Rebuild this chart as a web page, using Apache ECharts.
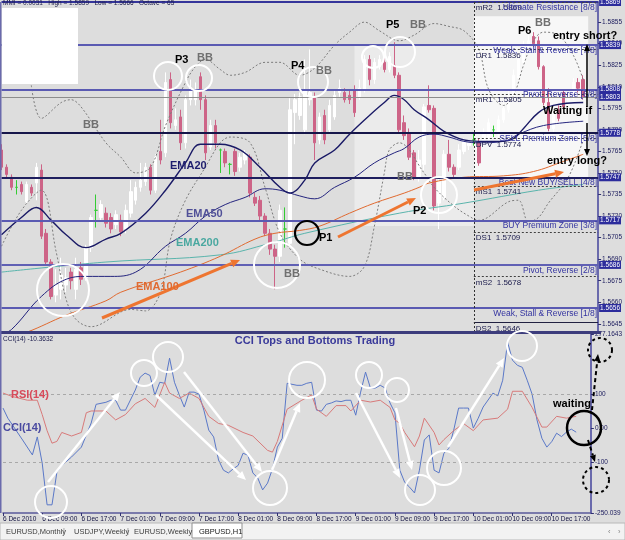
<!DOCTYPE html>
<html><head><meta charset="utf-8">
<script src="https://cdn.jsdelivr.net/npm/echarts@6/dist/echarts.min.js"></script>
<style>html,body{margin:0;padding:0;background:#dddddd;}#c{width:625px;height:540px;}</style>
</head><body><div id="c"></div>
<script>
// ---------------- DATA ----------------
const timeTickLabels = ["6 Dec 2010","6 Dec 09:00","6 Dec 17:00","7 Dec 01:00","7 Dec 09:00","7 Dec 17:00","8 Dec 01:00","8 Dec 09:00","8 Dec 17:00","9 Dec 01:00","9 Dec 09:00","9 Dec 17:00","10 Dec 01:00","10 Dec 09:00","10 Dec 17:00"];
const priceTickValues = [1.5645,1.5660,1.5675,1.5690,1.5705,1.5720,1.5735,1.5750,1.5765,1.5780,1.5795,1.5810,1.5825,1.5840,1.5855];
const cciTickValues = [-250.039,-100,0,100,277.1643];
const cciTickLabels = ["-250.039","-100","0.00","100","277.1643"];

// candles: [open, close, low, high], hourly bars from 6 Dec 2010 01:00
const candles = [
[1.5766,1.5754,1.5752,1.5770],[1.5754,1.5749,1.5747,1.5756],[1.5747,1.5740,1.5738,1.5749],[1.5740,1.5740,1.5735,1.5745],
[1.5742,1.5737,1.5735,1.5744],[1.5730,1.5742,1.5728,1.5744],[1.5740,1.5736,1.5734,1.5742],[1.5743,1.5754,1.5731,1.5757],
[1.5752,1.5706,1.5704,1.5756],[1.5708,1.5688,1.5686,1.5711],[1.5688,1.5664,1.5662,1.5690],[1.5665,1.5672,1.5660,1.5683],
[1.5669,1.5679,1.5662,1.5691],[1.5672,1.5677,1.5667,1.5684],[1.5681,1.5675,1.5669,1.5684],[1.5669,1.5683,1.5662,1.5691],
[1.5684,1.5676,1.5672,1.5688],[1.5677,1.5698,1.5675,1.5700],[1.5698,1.5719,1.5695,1.5721],[1.5724,1.5724,1.5712,1.5735],
[1.5719,1.5728,1.5716,1.5731],[1.5722,1.5715,1.5712,1.5726],[1.5719,1.5711,1.5708,1.5722],[1.5714,1.5721,1.5711,1.5724],
[1.5717,1.5709,1.5706,1.5721],[1.5711,1.5724,1.5708,1.5728],[1.5722,1.5737,1.5719,1.5745],[1.5731,1.5740,1.5728,1.5744],
[1.5740,1.5745,1.5737,1.5757],[1.5744,1.5754,1.5741,1.5757],[1.5754,1.5738,1.5735,1.5756],[1.5738,1.5761,1.5736,1.5763],
[1.5765,1.5759,1.5756,1.5787],[1.5764,1.5813,1.5761,1.5820],[1.5815,1.5785,1.5781,1.5820],[1.5783,1.5787,1.5780,1.5795],
[1.5789,1.5771,1.5766,1.5794],[1.5771,1.5801,1.5767,1.5804],[1.5801,1.5809,1.5797,1.5815],[1.5801,1.5808,1.5797,1.5813],
[1.5817,1.5801,1.5794,1.5820],[1.5801,1.5764,1.5759,1.5804],[1.5768,1.5783,1.5766,1.5787],[1.5783,1.5771,1.5767,1.5787],
[1.5766,1.5766,1.5750,1.5767],[1.5765,1.5757,1.5754,1.5767],[1.5756,1.5756,1.5749,1.5757],[1.5765,1.5751,1.5748,1.5767],
[1.5754,1.5761,1.5751,1.5764],[1.5759,1.5764,1.5756,1.5766],[1.5761,1.5736,1.5733,1.5763],[1.5733,1.5729,1.5727,1.5736],
[1.5731,1.5720,1.5717,1.5734],[1.5720,1.5708,1.5706,1.5722],[1.5708,1.5697,1.5693,1.5711],[1.5697,1.5692,1.5669,1.5700],
[1.5692,1.5724,1.5688,1.5728],[1.5711,1.5711,1.5698,1.5726],[1.5701,1.5794,1.5699,1.5802],[1.5792,1.5801,1.5770,1.5805],
[1.5790,1.5803,1.5787,1.5806],[1.5780,1.5808,1.5777,1.5829],[1.5801,1.5806,1.5797,1.5836],[1.5803,1.5771,1.5759,1.5806],
[1.5773,1.5789,1.5770,1.5792],[1.5790,1.5773,1.5770,1.5794],[1.5780,1.5797,1.5777,1.5801],[1.5789,1.5804,1.5787,1.5808],
[1.5806,1.5809,1.5803,1.5815],[1.5806,1.5801,1.5799,1.5809],[1.5804,1.5801,1.5798,1.5808],[1.5808,1.5792,1.5789,1.5811],
[1.5803,1.5809,1.5801,1.5815],[1.5808,1.5829,1.5806,1.5832],[1.5829,1.5815,1.5811,1.5832],[1.5815,1.5827,1.5812,1.5830],
[1.5824,1.5829,1.5822,1.5832],[1.5827,1.5822,1.5820,1.5830],[1.5822,1.5831,1.5820,1.5834],[1.5825,1.5818,1.5816,1.5841],
[1.5818,1.5780,1.5778,1.5820],[1.5785,1.5776,1.5773,1.5790],[1.5778,1.5761,1.5759,1.5781],[1.5764,1.5747,1.5745,1.5766],
[1.5747,1.5759,1.5744,1.5766],[1.5756,1.5796,1.5752,1.5798],[1.5797,1.5794,1.5792,1.5811],[1.5795,1.5727,1.5724,1.5797],
[1.5729,1.5744,1.5711,1.5747],[1.5733,1.5763,1.5731,1.5766],[1.5763,1.5754,1.5751,1.5773],[1.5754,1.5749,1.5747,1.5756],
[1.5754,1.5766,1.5752,1.5770],[1.5765,1.5772,1.5763,1.5774],[1.5769,1.5771,1.5766,1.5773],[1.5773,1.5773,1.5769,1.5778],
[1.5771,1.5757,1.5755,1.5774],[1.5771,1.5778,1.5769,1.5781],[1.5773,1.5785,1.5771,1.5788],[1.5780,1.5780,1.5775,1.5783],
[1.5777,1.5787,1.5773,1.5790],[1.5787,1.5795,1.5785,1.5799],[1.5794,1.5804,1.5792,1.5808],[1.5803,1.5818,1.5801,1.5822],
[1.5816,1.5829,1.5815,1.5832],[1.5827,1.5839,1.5825,1.5842],[1.5838,1.5842,1.5836,1.5846],[1.5845,1.5840,1.5838,1.5848],
[1.5842,1.5824,1.5822,1.5845],[1.5824,1.5799,1.5797,1.5825],[1.5799,1.5781,1.5779,1.5809],[1.5781,1.5794,1.5778,1.5797],
[1.5794,1.5788,1.5786,1.5797],[1.5806,1.5796,1.5794,1.5808],[1.5796,1.5802,1.5794,1.5804],[1.5802,1.5813,1.5801,1.5816],
[1.5813,1.5809,1.5806,1.5816],[1.5815,1.5803,1.5801,1.5818]
];

// indicator lines: [bar index, value]
const ema20 = [[0,1.5707],[4,1.5719],[7,1.5726],[10,1.5717],[13,1.5707],[17,1.5698],[21,1.5704],[24,1.5708],[29,1.5722],[33,1.5738],[37,1.5757],[40,1.5770],[44,1.5770],[48,1.5766],[52,1.5754],[56,1.5740],[58,1.5736],[61,1.5745],[63,1.5757],[67,1.5766],[70,1.5777],[74,1.5790],[77,1.5799],[79,1.5804],[81,1.5801],[83,1.5794],[86,1.5787],[89,1.5779],[93,1.5773],[96,1.5772],[101,1.5772],[103,1.5774],[105,1.5781],[108,1.5792],[111,1.5797],[117,1.5799]];
const ema50 = [[0,1.5638],[2,1.5641],[8,1.5664],[13,1.5676],[17,1.5678],[22,1.5678],[27,1.5681],[33,1.5699],[37,1.5708],[41,1.5720],[45,1.5728],[49,1.5733],[53,1.5739],[56,1.5738],[60,1.5734],[63,1.5732],[67,1.5740],[71,1.5747],[75,1.5757],[79,1.5764],[81,1.5767],[84,1.5775],[87,1.5777],[90,1.5775],[93,1.5772],[96,1.5771],[101,1.5772],[104,1.5777],[109,1.5783],[117,1.5786]];
const ema100 = [[0,1.5634],[5,1.5639],[13,1.5651],[21,1.5661],[24,1.5667],[36,1.5681],[44,1.5692],[51,1.5704],[55,1.5708],[60,1.5710],[64,1.5713],[70,1.5722],[75,1.5729],[81,1.5736],[84,1.5740],[86,1.5743],[93,1.5747],[101,1.5748],[107,1.5751],[113,1.5758],[117,1.5763]];
const ema200 = [[0,1.5681],[21,1.5688],[44,1.5693],[54,1.5701],[61,1.5708],[80,1.5722],[93,1.5729],[108,1.5738],[117,1.5742]];
const bbUpper = [[6,1.5811],[8,1.5788],[12,1.5799],[14,1.5801],[16,1.5796],[21,1.5771],[24,1.5761],[27,1.5750],[30,1.5754],[33,1.5783],[37,1.5813],[39,1.5824],[41,1.5829],[44,1.5822],[46,1.5818],[49,1.5820],[53,1.5827],[56,1.5827],[60,1.5818],[63,1.5823],[67,1.5839],[70,1.5848],[73,1.5855],[76,1.5849],[80,1.5842],[83,1.5846],[87,1.5854],[90,1.5852],[93,1.5849],[96,1.5836],[98,1.5808],[101,1.5797],[103,1.5804],[105,1.5825],[107,1.5842],[109,1.5848],[112,1.5846],[115,1.5832],[117,1.5815]];
const bbLower = [[0,1.5699],[4,1.5724],[8,1.5738],[11,1.5695],[13,1.5662],[15,1.5648],[18,1.5643],[26,1.5655],[29,1.5654],[32,1.5667],[34,1.5704],[37,1.5731],[41,1.5754],[44,1.5771],[46,1.5775],[50,1.5771],[53,1.5740],[56,1.5708],[60,1.5690],[64,1.5683],[70,1.5678],[73,1.5685],[75,1.5713],[77,1.5750],[78,1.5766],[80,1.5771],[85,1.5750],[87,1.5740],[91,1.5727],[94,1.5720],[96,1.5717],[102,1.5730],[104,1.5731],[106,1.5716],[108,1.5719],[110,1.5729],[114,1.5747],[117,1.5773]];
const cci = [[0,59],[1,29],[4,-35],[6,-79],[7,-26],[8,-103],[9,-226],[10,-226],[11,-130],[12,-110],[14,-85],[16,-56],[18,15],[19,70],
[21,76],[22,82],[23,82],[24,53],[25,53],[27,112],[28,150],[29,162],[30,155],[31,97],[32,135],[33,132],[34,206],[35,135],[36,97],[37,62],[38,106],[39,106],[40,100],[41,53],[42,-6],[43,-26],[44,-94],[45,-124],[46,-132],[47,-120],[48,-110],[49,-74],[50,-80],[51,-132],[52,-147],[53,-182],[54,-162],[55,-120],[56,-56],[57,-30],[58,132],
[60,126],[61,126],[62,132],[63,135],[64,53],[65,50],[66,70],[67,74],[68,80],[69,78],[70,82],[71,82],[72,38],[73,106],[74,165],[75,118],[76,118],[77,126],[78,118],[79,74],[80,45],[81,-124],[82,-160],[83,-174],[84,-191],[85,-124],[86,-35],[87,-20],[88,-124],[89,-132],[90,-74],[91,-60],[92,-6],[93,59],[94,59],[95,59],[96,0],[97,29],[98,62],
[100,103],[101,95],[102,141],[103,253],[104,200],[105,185],[106,179],[107,141],[108,100],[109,24],[110,-30],[111,-56],[112,-40],[113,-15],[114,-25],[115,-12],[116,-3],[117,-12]];
const rsi = [[0,67],[2,65],[5,63],[7,63],[8,55],[9,46],[10,39],[11,40],[12,45],[14,43],[16,45],[17,56],[18,57],[21,57],[23,52],[25,55],[27,61],[29,64],[31,59],[32,66],[33,73],[34,67],[36,64],[38,67],[40,64],[42,54],[44,50],[46,49],[49,45],[51,43],[54,35],[55,34],[56,40],[58,58],[61,63],[63,66],[64,58],[66,54],[68,60],[70,60],[71,57],[73,63],[75,62],[77,63],[79,59],[80,52],[81,50],[82,45],[84,37],[85,43],[86,53],[88,45],[89,38],[90,41],[92,46],[94,50],[96,46],[98,52],[101,53],[103,58],[104,68],[106,68],[108,59],[110,48],[111,48],[113,54],[115,53],[117,54]];

const murreyLevels = [1.5869,1.5839,1.5808,1.5778,1.5747,1.5717,1.5686,1.5656];
const murreyNames = ["Ultimate Resistance [8/8]","Weak, Stall & Reverse [7/8]","Pivot, Reverse [6/8]","SELL Premium Zone [5/8]","Best New BUY/SELL [4/8]","BUY Premium Zone [3/8]","Pivot, Reverse [2/8]","Weak, Stall & Reverse [1/8]"];
const pivotNames = ["mR2","DR1","mR1","DPV","mS1","DS1","mS2","DS2"];
const pivotValues = [1.5869,1.5836,1.5805,1.5774,1.5741,1.5709,1.5678,1.5646];
const bidPrice = 1.5803;
const cciValue = -10.3632;

// ---------------- BUILD ----------------
const NCAT = 121;
const categories = [];
for (let i = 0; i < NCAT; i++) {
  const t = 1 + i, d = 6 + Math.floor(t / 24), h = t % 24;
  categories.push(i === 0 ? "6 Dec 2010" : d + " Dec " + (h < 10 ? "0" : "") + h + ":00");
}
const LAST = NCAT - 1;
const showTick = (idx, val) => timeTickLabels.includes(val);
const FONT = '"Liberation Sans", Arial, sans-serif';
const murreyColors = ['#34349a','#5a5ab2','#5a5ab2','#16164a','#1e1e5e','#5a5ab2','#6060b4','#5a5ab2'];
const pivotStart = categories.indexOf("10 Dec 00:00");
const boxLabel = v => ({show: true, position: 'end', distance: 1, formatter: v.toFixed(4), color: '#fff', backgroundColor: '#2c2c9c', fontSize: 6.5, padding: [1, 1, 0, 1], fontFamily: FONT});

const markLines = [];
murreyLevels.forEach((v, k) => {
  markLines.push([{coord: [0, v], lineStyle: {color: murreyColors[k], width: 2, type: 'solid'}, label: boxLabel(v)}, {coord: [LAST, v]}]);
});
markLines.push([{coord: [0, bidPrice], lineStyle: {color: '#8c8c8c', width: 1, type: 'solid'}, label: boxLabel(bidPrice)}, {coord: [LAST, bidPrice]}]);
pivotValues.forEach((v, k) => markLines.push([
  {coord: [pivotStart, v], lineStyle: {color: k === 7 ? '#202040' : '#404040', width: 1, type: k === 7 ? 'solid' : [2, 2]},
   label: {show: true, position: 'insideStartBottom', distance: 2, formatter: pivotNames[k] + '  ' + v.toFixed(4), color: '#202050', fontSize: 8, fontFamily: FONT}},
  {coord: [LAST, v]}
]));
markLines.push([{coord: [pivotStart, 1.5869], lineStyle: {color: '#303030', width: 1, type: [2, 2]}, label: {show: false}}, {coord: [pivotStart, 1.5640]}]);
// zone names written along the Murrey levels
const zoneLines = murreyLevels.map((v, k) => [
  {coord: [0, v], label: {show: true, position: 'insideEndBottom', distance: 1, formatter: murreyNames[k], color: '#3333a0', fontSize: 8.5, fontFamily: FONT}},
  {coord: [LAST, v]}
]);

function lineSeries(data, color, width, type, smooth, xi, yi, z) {
  return {type: 'line', xAxisIndex: xi, yAxisIndex: yi, data: data, showSymbol: false, smooth: smooth, z: z,
    lineStyle: {color: color, width: width, type: type}, silent: true};
}

const option = {
  animation: false,
  backgroundColor: '#dddddd',
  textStyle: {fontFamily: FONT},
  grid: [{left: 1.5, right: 25, top: 2, height: 329}, {left: 1.5, right: 25, top: 334, height: 179}],
  xAxis: [
    {type: 'category', gridIndex: 0, data: categories, boundaryGap: false, axisLine: {show: false, onZero: false}, axisTick: {show: false}, axisLabel: {show: false}, splitLine: {show: false}},
    {type: 'category', gridIndex: 1, data: categories, boundaryGap: false,
      axisLine: {onZero: false, lineStyle: {color: '#5a5a9a', width: 1.5}},
      axisTick: {interval: showTick, length: 3, lineStyle: {color: '#303070'}},
      axisLabel: {interval: showTick, hideOverlap: false, align: 'left', margin: 3, fontSize: 6.5, color: '#101040'},
      splitLine: {show: false}}
  ],
  yAxis: [
    {type: 'value', gridIndex: 0, position: 'right', min: 1.5640, max: 1.5869, splitLine: {show: false},
      axisLine: {show: true, lineStyle: {color: '#6a6aac', width: 2}},
      axisTick: {show: true, customValues: priceTickValues, length: 3, lineStyle: {color: '#303070'}},
      axisLabel: {customValues: priceTickValues, formatter: v => v.toFixed(4), fontSize: 6.5, color: '#202060', margin: 4}},
    {type: 'value', gridIndex: 1, position: 'right', min: -250.039, max: 277.1643, splitLine: {show: false},
      axisLine: {show: true, lineStyle: {color: '#6a6aac', width: 2}},
      axisTick: {show: true, customValues: cciTickValues, length: 3, lineStyle: {color: '#303070'}},
      axisLabel: {customValues: cciTickValues, fontSize: 6.5, color: '#202060', margin: 4,
        formatter: v => { let b = 0; cciTickValues.forEach((c, k) => { if (Math.abs(c - v) < Math.abs(cciTickValues[b] - v)) b = k; }); return cciTickLabels[b]; }}},
    {type: 'value', gridIndex: 1, min: 0, max: 100, show: false}
  ],
  series: [
    {type: 'line', xAxisIndex: 0, yAxisIndex: 0, data: [], z: 1, silent: true,
      markArea: {silent: true, data: [
        [{coord: [71, 1.5839], itemStyle: {color: '#ebebeb'}}, {coord: [pivotStart, 1.5713]}],
        [{coord: [pivotStart, 1.5859], itemStyle: {color: '#f7f7f7'}}, {coord: [118, 1.5747]}]
      ]}},
    {type: 'line', xAxisIndex: 0, yAxisIndex: 0, data: [], z: 2, silent: true,
      markLine: {silent: true, symbol: ['none', 'none'], animation: false, data: markLines}},
    {type: 'line', xAxisIndex: 0, yAxisIndex: 0, data: [], z: 2, silent: true,
      markLine: {silent: true, symbol: ['none', 'none'], animation: false, data: zoneLines,
        lineStyle: {color: 'rgba(0,0,0,0)', width: 0}}},
    {type: 'candlestick', xAxisIndex: 0, yAxisIndex: 0, data: candles, barWidth: 3, z: 3, silent: true,
      itemStyle: {color: '#ffffff', color0: '#cd6487', borderColor: '#ffffff', borderColor0: '#cd6487', borderColorDoji: '#33cc33', borderWidth: 1}},
    lineSeries(bbUpper, '#7c7c7c', 1, [2, 2], 0.35, 0, 0, 4),
    lineSeries(bbLower, '#7c7c7c', 1, [2, 2], 0.35, 0, 0, 4),
    lineSeries(ema200, '#5ab4ac', 1, 'solid', 0.4, 0, 0, 4),
    lineSeries(ema100, '#e06a30', 1, 'solid', 0.4, 0, 0, 4),
    lineSeries(ema50, '#24247e', 1, 'solid', 0.4, 0, 0, 4),
    lineSeries(ema20, '#1a1a66', 1.4, 'solid', 0.4, 0, 0, 4),
    {type: 'line', xAxisIndex: 1, yAxisIndex: 1, data: cci, showSymbol: false, z: 4, silent: true,
      lineStyle: {color: '#5a78c8', width: 1},
      markLine: {silent: true, symbol: ['none', 'none'], label: {show: false},
        data: [[{coord: [0, 100]}, {coord: [LAST, 100]}], [{coord: [0, -100]}, {coord: [LAST, -100]}]],
        lineStyle: {color: '#a8a8a8', width: 1, type: [3, 3]}}},
    lineSeries(rsi, '#d87a7a', 1, 'solid', false, 1, 2, 4)
  ]
};

const chart = echarts.init(document.getElementById('c'), null, {renderer: 'canvas'});
chart.setOption(option);

// ---------------- ANNOTATIONS (drawn overlays) ----------------
const G = [];
const BF = 'bold 11px ' + FONT;
function txt(x, y, t, fill, font, align) { G.push({type: 'text', z: 100, x: x, y: y, style: {text: t, fill: fill, font: font || BF, align: align || 'left', verticalAlign: 'top'}}); }
function circ(cx, cy, r, stroke, w, dash) { G.push({type: 'circle', z: 100, shape: {cx: cx, cy: cy, r: r}, style: {fill: 'none', stroke: stroke, lineWidth: w, lineDash: dash || null}}); }
function arrow(x1, y1, x2, y2, color, w, dash, hl, hw) {
  const a = Math.atan2(y2 - y1, x2 - x1), bx = x2 - hl * Math.cos(a), by = y2 - hl * Math.sin(a);
  const px = -Math.sin(a) * hw, py = Math.cos(a) * hw;
  G.push({type: 'line', z: 100, shape: {x1: x1, y1: y1, x2: bx, y2: by}, style: {stroke: color, lineWidth: w, lineDash: dash || null}});
  G.push({type: 'polygon', z: 100, shape: {points: [[x2, y2], [bx + px, by + py], [bx - px, by - py]]}, style: {fill: color}});
}
G.push({type: 'rect', z: 90, shape: {x: 2, y: 8, width: 76, height: 76}, style: {fill: '#ffffff'}});
txt(3, 0, 'MMI = 0.0031   High = 1.5859   Low = 1.5666   Octave = 65', '#202050', '6.5px ' + FONT);
G.push({type: 'rect', z: 90, shape: {x: 0, y: 331, width: 601, height: 3}, style: {fill: '#3c3c7c'}});
G.push({type: 'rect', z: 90, shape: {x: 0, y: 2, width: 1.5, height: 511}, style: {fill: '#6a6aac'}});
[[63,290,26],[168,76,14],[199,78,13],[313,82,15],[373,57,11],[400,52,15],[277,265,23],[439,195,18]].forEach(c => circ(c[0], c[1], c[2], '#ffffff', 2));
circ(307, 233, 12, '#000000', 2.2);
arrow(102, 318, 240, 260, '#ee7530', 3, null, 9, 4);
arrow(338, 237, 416, 198, '#ee7530', 3, null, 9, 4);
arrow(474, 190, 564, 172, '#ee7530', 3, null, 9, 4);
arrow(587, 107, 587, 44, '#000000', 1.5, null, 7, 3);
arrow(587, 123, 587, 156, '#000000', 1.5, null, 7, 3);
txt(175, 54, 'P3', '#000'); txt(197, 52, 'BB', '#707070');
txt(291, 60, 'P4', '#000'); txt(316, 65, 'BB', '#707070');
txt(386, 19, 'P5', '#000'); txt(410, 19, 'BB', '#707070');
txt(518, 25, 'P6', '#000'); txt(535, 17, 'BB', '#707070');
txt(83, 119, 'BB', '#707070'); txt(397, 171, 'BB', '#707070'); txt(284, 268, 'BB', '#707070');
txt(413, 205, 'P2', '#000'); txt(319, 232, 'P1', '#000');
txt(170, 160, 'EMA20', '#1e1e6e'); txt(186, 208, 'EMA50', '#505098'); txt(176, 237, 'EMA200', '#4aa8a0'); txt(136, 281, 'EMA100', '#e06a30');
txt(553, 30, 'entry short?', '#000'); txt(543, 105, 'Waiting if', '#000'); txt(547, 155, 'entry long?', '#000');
txt(315, 335, 'CCI Tops and Bottoms Trading', '#3a3a9a', BF, 'center');
txt(3, 336, 'CCI(14) ' + cciValue.toFixed(4), '#202050', '6.5px ' + FONT);
txt(11, 389, 'RSI(14)', '#d84a5a'); txt(3, 422, 'CCI(14)', '#4a4aa0'); txt(553, 398, 'waiting', '#000');
[[51,502,16],[144,373,13],[168,357,15],[307,380,18],[270,488,17],[369,375,13],[397,390,12],[420,490,15],[444,468,17],[522,346,15]].forEach(c => circ(c[0], c[1], c[2], '#ffffff', 2));
[[48,482,120,392],[156,395,246,480],[184,372,262,472],[272,470,300,403],[356,393,400,478],[396,408,412,470],[448,447,504,358]].forEach(a => arrow(a[0], a[1], a[2], a[3], '#ffffff', 2.5, null, 9, 4));
circ(584, 428, 17, '#000000', 2.5);
circ(600, 350, 12, '#000000', 2, [3, 3]);
circ(596, 480, 13, '#000000', 2, [3, 3]);
arrow(592, 410, 598, 354, '#000000', 2, [4, 3], 7, 3);
arrow(588, 440, 595, 462, '#000000', 2, [4, 3], 7, 3);
G.push({type: 'rect', z: 90, shape: {x: 0, y: 523, width: 625, height: 17}, style: {fill: '#f2f2f2', stroke: '#b8b8b8', lineWidth: 1}});
G.push({type: 'rect', z: 91, shape: {x: 192, y: 523, width: 50, height: 15}, style: {fill: '#ffffff', stroke: '#909090', lineWidth: 1}});
const TF = '7.5px ' + FONT;
txt(6, 528, 'EURUSD,Monthly', '#404040', TF); txt(63, 527, '|', '#808080', TF);
txt(74, 528, 'USDJPY,Weekly', '#404040', TF); txt(127, 527, '|', '#808080', TF);
txt(134, 528, 'EURUSD,Weekly', '#404040', TF);
txt(199, 528, 'GBPUSD,H1', '#202020', TF);
txt(608, 528, '‹', '#808080', TF); txt(618, 528, '›', '#808080', TF);
chart.setOption({graphic: G});
</script></body></html>
